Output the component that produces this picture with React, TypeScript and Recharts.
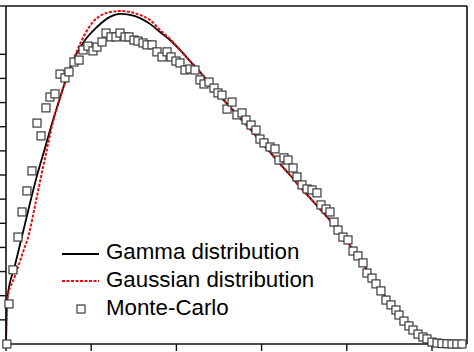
import { ComposedChart, Line, Scatter, XAxis, YAxis, Legend } from "recharts";

// Gamma distribution fit (black solid)
const gammaX = [
  0, 0.012, 0.106, 0.2, 0.282, 0.376, 0.458, 0.552, 0.634, 0.775, 0.904, 1.068,
  1.221, 1.338, 1.455, 1.573, 1.69, 1.808, 1.925, 2.042, 2.16, 2.277, 2.394,
  2.512, 2.629, 2.746, 2.864, 2.981, 3.099, 3.216, 3.333, 3.451, 3.568, 3.685,
  3.803, 3.92, 4.038, 4.155, 4.272, 4.39, 4.507, 4.624, 4.742, 4.859, 4.977,
  5.094, 5.211, 5.411,
];
const gammaY = [
  0, 1.82, 3.27, 4.64, 5.84, 7.13, 8.12, 9.28, 10.19, 11.64, 12.47, 13.13,
  13.55, 13.67, 13.63, 13.5, 13.26, 12.92, 12.59, 12.18, 11.72, 11.27, 10.77,
  10.27, 9.82, 9.36, 8.91, 8.41, 7.95, 7.46, 7.0, 6.5, 6.05, 5.59,
  5.12, 4.62, 4.08, 3.5, 2.9, 2.28, 1.7, 1.16, 0.75, 0.41, 0.17,
  0.04, 0, 0,
];

// Gaussian distribution fit (red dashed)
const gaussX = [
  0, 0.012, 0.106, 0.2, 0.27, 0.34, 0.411, 0.481, 0.552, 0.634, 0.704, 0.775,
  0.833, 0.927, 1.021, 1.103, 1.221, 1.338, 1.455, 1.573, 1.69, 1.808, 1.925,
  2.042, 2.16, 2.277, 2.394, 2.512, 2.629, 2.746, 2.864, 2.981, 3.099, 3.216,
  3.333, 3.451, 3.568, 3.685, 3.803, 3.92, 4.038, 4.155, 4.272, 4.39, 4.507,
  4.624, 4.742, 4.859, 4.977, 5.094, 5.211, 5.411,
];
const gaussY = [
  0, 1.82, 2.82, 3.81, 4.56, 5.72, 6.92, 8.08, 9.2, 10.19, 10.98, 11.64,
  12.14, 12.84, 13.34, 13.59, 13.75, 13.79, 13.75, 13.63, 13.42, 13.01, 12.63,
  12.18, 11.72, 11.27, 10.77, 10.27, 9.82, 9.36, 8.91, 8.41, 7.95, 7.46,
  7.0, 6.5, 6.05, 5.59, 5.12, 4.62, 4.08, 3.5, 2.9, 2.28, 1.7,
  1.16, 0.75, 0.41, 0.17, 0.04, 0, 0,
];

// Monte-Carlo samples (squares)
const mcX = [
  0.01, 0.035, 0.082, 0.141, 0.188, 0.246, 0.305, 0.364, 0.411, 0.469, 0.516,
  0.575, 0.634, 0.692, 0.739, 0.798, 0.857, 0.904, 0.962, 1.021, 1.068, 1.127,
  1.174, 1.232, 1.291, 1.338, 1.397, 1.444, 1.502, 1.549, 1.608, 1.655, 1.714,
  1.772, 1.831, 1.89, 1.937, 1.995, 2.042, 2.101, 2.16, 2.218, 2.277, 2.324,
  2.383, 2.441, 2.488, 2.535, 2.594, 2.653, 2.711, 2.77, 2.817, 2.876, 2.934,
  2.981, 3.028, 3.099, 3.157, 3.204, 3.263, 3.31, 3.369, 3.415, 3.474, 3.533,
  3.592, 3.65, 3.697, 3.756, 3.803, 3.85, 3.897, 3.955, 4.014, 4.073, 4.131,
  4.19, 4.237, 4.296, 4.343, 4.401, 4.46, 4.519, 4.577, 4.613, 4.671, 4.73,
  4.777, 4.836, 4.894, 4.941, 5.0, 5.059, 5.117, 5.176, 5.235, 5.293, 5.352,
];
const mcY = [
  0, 1.66, 3.07, 4.43, 5.47, 6.34, 7.17, 9.15, 8.62, 9.78, 10.23,
  10.36, 11.18, 11.02, 11.27, 11.68, 11.76, 12.18, 12.34, 12.14, 12.3, 12.51,
  12.88, 12.72, 12.72, 12.88, 12.72, 12.72, 12.59, 12.55, 12.47, 12.39, 12.39,
  12.1, 11.89, 12.1, 11.89, 11.72, 11.64, 11.35, 11.39, 11.35, 10.94, 10.77,
  10.85, 10.6, 10.4, 10.31, 9.73, 10.02, 9.49, 9.57, 9.28, 9.07, 8.86,
  8.49, 8.33, 8.16, 8.08, 7.62, 7.71, 7.62, 7.29, 6.92, 6.59, 6.42,
  6.38, 6.26, 5.76, 5.59, 5.47, 5.05, 4.72, 4.43, 4.31, 3.85, 3.65,
  3.36, 2.94, 2.73, 2.49, 2.2, 1.82, 1.62, 1.41, 1.2, 0.95, 0.75,
  0.58, 0.41, 0.29, 0.21, 0.08, 0.04, 0.02, 0.01, 0, 0, 0,
];

const xTicks = [0, 1, 2, 3, 4, 5];
const yTicks = [0, 1, 2, 3, 4, 5, 6, 7, 8, 9, 10, 11, 12, 13, 14];

const gammaData = gammaX.map((x, i) => ({ x, y: gammaY[i] }));
const gaussData = gaussX.map((x, i) => ({ x, y: gaussY[i] }));
const mcData = mcX.map((x, i) => ({ x, y: mcY[i] }));

const FRAME = "#111";
const FONT = "'Liberation Sans', Arial, sans-serif";

// no tick labels in the original, only the marks
const noLabel = () => <g />;

const Square = (props: any) => (
  <rect
    x={props.cx - 4}
    y={props.cy - 4}
    width={8}
    height={8}
    fill="#fff"
    stroke="#3a3a3a"
    strokeWidth={1.2}
  />
);

const renderLegend = () => (
  <svg width={280} height={92} style={{ display: "block" }}>
    <line x1={6} y1={18} x2={43} y2={18} stroke="#000" strokeWidth={1.8} />
    <line
      x1={6}
      y1={45}
      x2={43}
      y2={45}
      stroke="#e01010"
      strokeWidth={2}
      strokeDasharray="3 1.5"
    />
    <rect x={21} y={69} width={8} height={8} fill="#fff" stroke="#3a3a3a" strokeWidth={1.2} />
    <text x={50} y={23} fontSize={22.3} fontFamily={FONT} fill="#000">
      Gamma distribution
    </text>
    <text x={50} y={51} fontSize={22.3} fontFamily={FONT} fill="#000">
      Gaussian distribution
    </text>
    <text x={50} y={79} fontSize={22.3} fontFamily={FONT} fill="#000">
      Monte-Carlo
    </text>
  </svg>
);

export default function App() {
  return (
    <div style={{ position: "absolute", left: 0, top: 0 }}>
      <ComposedChart
        width={474}
        height={352}
        margin={{ top: 5, right: 6, bottom: 7, left: 5 }}
      >
        <XAxis
          xAxisId="bottom"
          dataKey="x"
          type="number"
          domain={[0, 5.411]}
          ticks={xTicks}
          tick={noLabel}
          tickSize={7}
          height={1}
          axisLine={{ stroke: FRAME, strokeWidth: 1.6 }}
          tickLine={{ stroke: FRAME, strokeWidth: 1.4 }}
        />
        <XAxis
          xAxisId="top"
          orientation="top"
          dataKey="x"
          type="number"
          domain={[0, 5.411]}
          ticks={xTicks}
          tick={noLabel}
          tickSize={5}
          height={1}
          axisLine={{ stroke: FRAME, strokeWidth: 1.6 }}
          tickLine={{ stroke: FRAME, strokeWidth: 1.4 }}
        />
        <YAxis
          yAxisId="left"
          dataKey="y"
          type="number"
          domain={[0, 14]}
          ticks={yTicks}
          tick={noLabel}
          tickSize={6}
          width={1}
          axisLine={{ stroke: FRAME, strokeWidth: 1.6 }}
          tickLine={{ stroke: FRAME, strokeWidth: 1.4 }}
        />
        <YAxis
          yAxisId="right"
          orientation="right"
          dataKey="y"
          type="number"
          domain={[0, 14]}
          ticks={yTicks}
          tick={noLabel}
          tickSize={4}
          width={1}
          axisLine={{ stroke: FRAME, strokeWidth: 1.6 }}
          tickLine={{ stroke: FRAME, strokeWidth: 1.2 }}
        />
        <Legend
          layout="vertical"
          align="center"
          verticalAlign="middle"
          content={renderLegend}
          wrapperStyle={{ left: 56, top: 236, width: 280, height: 92 }}
        />
        <Line
          data={gammaData}
          xAxisId="bottom"
          yAxisId="left"
          dataKey="y"
          type="monotone"
          stroke="#000"
          strokeWidth={1.8}
          dot={false}
          isAnimationActive={false}
        />
        <Line
          data={gaussData}
          xAxisId="bottom"
          yAxisId="left"
          dataKey="y"
          type="monotone"
          stroke="#e01010"
          strokeWidth={2}
          strokeDasharray="3 1.5"
          dot={false}
          isAnimationActive={false}
        />
        <Scatter
          data={mcData}
          xAxisId="bottom"
          yAxisId="left"
          dataKey="y"
          shape={Square}
          isAnimationActive={false}
        />
      </ComposedChart>
    </div>
  );
}
